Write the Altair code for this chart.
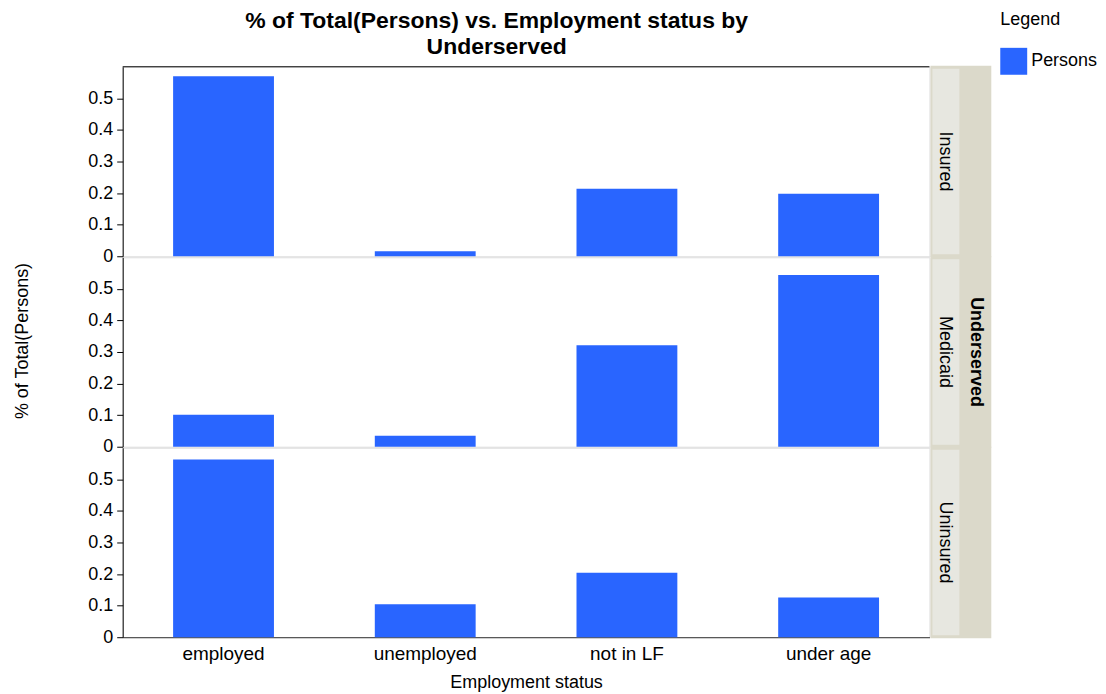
import altair as alt
import pandas as pd

categories = ["employed", "unemployed", "not in LF", "under age"]
groups = ["Insured", "Medicaid", "Uninsured"]
insured = [0.570, 0.016, 0.214, 0.198]
medicaid = [0.101, 0.035, 0.321, 0.544]
uninsured = [0.563, 0.104, 0.204, 0.126]
series_name = "Persons"
title_line1 = "% of Total(Persons) vs. Employment status by"
title_line2 = "Underserved"

rows = []
for g, vals in zip(groups, [insured, medicaid, uninsured]):
    for c, v in zip(categories, vals):
        rows.append({"Employment": c, "Underserved": g, "value": v, "Series": series_name})
df = pd.DataFrame(rows)

W = 809
H = 190
BLUE = "#2965FF"
DARK = "#DBD9CA"
LIGHT = "#E7E7E0"
FONT = "Liberation Sans"
FS = 18

one = alt.datum.Employment == "employed"


def panel(group, bottom=False, middle=False, top=False):
    base = alt.Chart(df).transform_filter(alt.datum.Underserved == group)
    if bottom:
        xaxis = alt.Axis(title="Employment status", labelAngle=0, ticks=False,
                         domainColor="#333", labelFontSize=19, titleFontSize=18,
                         titleFontWeight="normal", labelPadding=7, titlePadding=10,
                         labelColor="black", titleColor="black")
    else:
        xaxis = None
    bars = base.mark_bar().encode(
        x=alt.X("Employment:N", sort=categories,
                scale=alt.Scale(paddingInner=0.5, paddingOuter=0.25), axis=xaxis),
        y=alt.Y("value:Q", scale=alt.Scale(domain=[0, 0.6], nice=False),
                axis=alt.Axis(title="", values=[0, 0.1, 0.2, 0.3, 0.4, 0.5], format="~g",
                              grid=False, domainColor="black", tickColor="black",
                              tickSize=6, labelFontSize=FS, labelColor="black",
                              labelPadding=4)),
        color=alt.Color("Series:N", scale=alt.Scale(range=[BLUE]),
                        legend=alt.Legend(title="Legend", symbolType="square",
                                          symbolSize=729, symbolStrokeWidth=0,
                                          titleFontSize=FS, titleFontWeight="normal",
                                          labelFontSize=FS, titleColor="black",
                                          labelColor="black", titlePadding=19,
                                          orient="none", legendX=880, legendY=-56)),
    )
    dark_strip = base.mark_rect(color=DARK).encode(
        x=alt.value(W + 1), x2=alt.value(W + 62),
        y=alt.value(-1), y2=alt.value(H + 1),
    ).transform_filter(one)
    light_strip = base.mark_rect(color=LIGHT).encode(
        x=alt.value(W + 3), x2=alt.value(W + 30),
        y=alt.value(2), y2=alt.value(H - 2),
    ).transform_filter(one)
    strip_text = base.mark_text(angle=90, fontSize=FS, color="black", text=group).encode(
        x=alt.value(W + 16), y=alt.value(H / 2),
    ).transform_filter(one)
    layers = [dark_strip, light_strip, bars, strip_text]
    if middle:
        layers.append(base.mark_text(angle=90, fontSize=FS, fontWeight="bold", color="black",
                                     text="Underserved").encode(
            x=alt.value(W + 47), y=alt.value(H / 2),
        ).transform_filter(one))
        layers.append(base.mark_text(angle=270, fontSize=FS, color="black",
                                     text="% of Total(Persons)").encode(
            x=alt.value(-100), y=alt.value(H / 2 - 11),
        ).transform_filter(one))
    if top:
        layers.append(base.mark_rule(color="black").encode(
            x=alt.value(0), x2=alt.value(W), y=alt.value(0),
        ).transform_filter(one))
        layers.append(base.mark_text(fontSize=23, fontWeight="bold", color="black",
                                     align="center", baseline="alphabetic",
                                     text=title_line1).encode(
            x=alt.value(375), y=alt.value(-39),
        ).transform_filter(one))
        layers.append(base.mark_text(fontSize=23, fontWeight="bold", color="black",
                                     align="center", baseline="alphabetic",
                                     text=title_line2).encode(
            x=alt.value(375), y=alt.value(-13),
        ).transform_filter(one))
    return alt.layer(*layers).properties(width=W, height=H)


chart = alt.vconcat(
    panel("Insured", top=True),
    panel("Medicaid", middle=True),
    panel("Uninsured", bottom=True),
    spacing=1,
    bounds="flush",
).properties(
    padding={"left": 5, "top": 0, "right": 0, "bottom": 0},
).configure(font=FONT).configure_view(stroke="#dddddd")

chart.save("out.html", embed_options={"renderer": "svg", "actions": False})
